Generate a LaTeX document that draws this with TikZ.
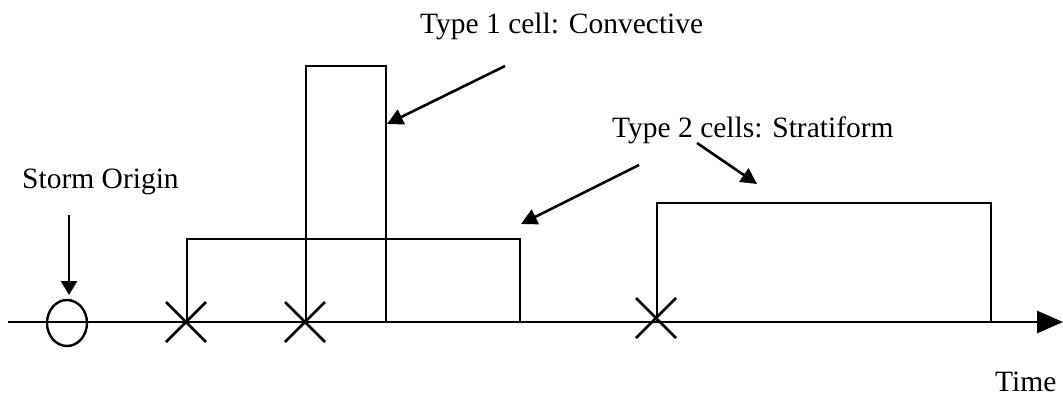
\documentclass[tikz,border=0pt]{standalone}
\usepackage{fontspec}
\setmainfont{Liberation Serif}
\usetikzlibrary{arrows.meta,shapes.geometric}

\begin{document}
\begin{tikzpicture}[x=1pt,y=-1pt,
  line/.style={line width=2.5pt,line join=miter},
  callout/.style={line width=2.6pt,-{Triangle[length=16pt,width=16pt]}},
  label/.style={font=\fontsize{29.5}{34}\selectfont,inner sep=0pt,anchor=base west},
  cross/.style={line width=2.6pt}]

  \useasboundingbox (0,0) rectangle (1063,400);

  % time axis
  \coordinate (t0) at (8,322);
  \coordinate (t1) at (1063,322);
  \draw[line width=2.8pt,-{Triangle[length=26pt,width=22pt]}] (t0) -- (t1);

  % storm origin marker
  \node[ellipse,draw,line width=2.4pt,minimum width=40pt,minimum height=46pt,inner sep=0pt] (origin) at (67,323) {};
  \node[label] (originlbl) at (22,188.5) {Storm Origin};
  \coordinate (oa) at (69,215);
  \coordinate (ob) at (69,295);
  \draw[line width=2.5pt,-{Triangle[length=14pt,width=16pt]}] (oa) -- (ob);

  % cells
  \coordinate (c1a) at (187,239); \coordinate (c1b) at (520,322);
  \coordinate (c2a) at (306,66);  \coordinate (c2b) at (386,322);
  \coordinate (c3a) at (657,203); \coordinate (c3b) at (991,322);
  \draw[line] (c1a |- c1b) -- (c1a) -- (c1b |- c1a) -- (c1b);
  \draw[line] (c2a |- c2b) -- (c2a) -- (c2b |- c2a) -- (c2b);
  \draw[line] (c3a |- c3b) -- (c3a) -- (c3b |- c3a) -- (c3b);

  % cell start crosses
  \foreach \n/\px/\py in {x1/186/322, x2/305/322, x3/656/318}{
    \coordinate (\n) at (\px,\py);
    \draw[cross] ([shift={(-20,-20)}]\n) -- ([shift={(20,20)}]\n);
    \draw[cross] ([shift={(-20,20)}]\n) -- ([shift={(20,-20)}]\n);
  }

  % labels
  \node[label] (conv) at (420,33.5) {Type 1 cell: Convective};
  \node[label] (strat) at (612,137.5) {Type 2 cells: Stratiform};
  \node[label] (time) at (995,391) {Time};

  % callout arrows
  \coordinate (a1s) at (505,66);  \coordinate (a1e) at (387,124);
  \coordinate (a2s) at (639,165); \coordinate (a2e) at (521,224);
  \coordinate (a3s) at (697,143); \coordinate (a3e) at (757,184);
  \draw[callout] (a1s) -- (a1e);
  \draw[callout] (a2s) -- (a2e);
  \draw[callout] (a3s) -- (a3e);
\end{tikzpicture}
\end{document}
